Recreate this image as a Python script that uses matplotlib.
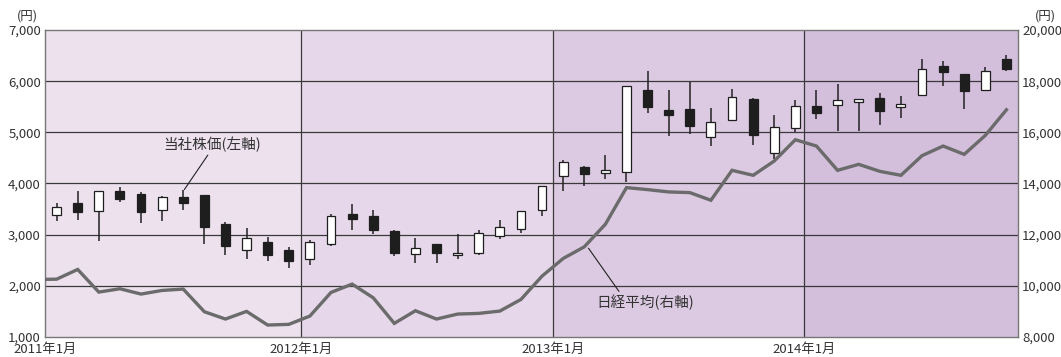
import matplotlib.pyplot as plt
import numpy as np

plt.rcParams['font.family'] = ['Liberation Sans Narrow', 'Noto Sans CJK JP', 'DejaVu Sans']

# 当社株価 月足 2011年1月 - 2014年10月 (円)
opens = [3380, 3627, 3464, 3854, 3802, 3477, 3743, 3770, 3204, 2697, 2866, 2710,
         2515, 2814, 3406, 3373, 3067, 2619, 2808, 2612, 2651, 2983, 3113, 3490,
         4153, 4322, 4212, 4225, 5818, 5441, 5447, 4914, 5246, 5642, 4596, 5090,
         5506, 5525, 5597, 5668, 5493, 5733, 6293, 6143, 5831, 6436]
closes = [3542, 3445, 3854, 3692, 3445, 3737, 3627, 3152, 2775, 2944, 2612, 2482,
          2847, 3367, 3315, 3087, 2645, 2749, 2632, 2651, 3035, 3152, 3464, 3958,
          4426, 4192, 4264, 5909, 5493, 5343, 5116, 5207, 5688, 4940, 5103, 5506,
          5376, 5636, 5642, 5415, 5545, 6247, 6176, 5805, 6189, 6241]
highs = [3627, 3848, 3854, 3932, 3835, 3750, 3867, 3783, 3250, 3139, 2957, 2762,
         2905, 3412, 3607, 3477, 3100, 2938, 2808, 3022, 3087, 3282, 3464, 3958,
         4452, 4342, 4550, 5909, 6195, 5831, 5980, 5473, 5850, 5675, 5330, 5636,
         5818, 5935, 5655, 5766, 5714, 6436, 6403, 6143, 6286, 6520]
lows = [3269, 3282, 2879, 3640, 3230, 3269, 3477, 2808, 2600, 2534, 2482, 2339,
        2404, 2782, 3100, 3022, 2580, 2450, 2450, 2534, 2612, 2918, 3035, 3367,
        3854, 3952, 4082, 4030, 5382, 4927, 4960, 4726, 5220, 4745, 4485, 5005,
        5259, 5025, 5018, 5135, 5278, 5733, 5902, 5460, 5831, 6208]

# 日経平均 2010年12月 - 2014年10月 (円)
nikkei = [10250, 10260, 10640, 9756, 9886, 9678, 9821, 9873, 8988, 8702, 9001, 8468, 8494,
          8819, 9742, 10068, 9534, 8533, 9027, 8702, 8897, 8923, 9014, 9469, 10380,
          11069, 11524, 12408, 13839, 13761, 13670, 13644, 13345, 14515, 14320, 14879, 15711,
          15464, 14515, 14749, 14476, 14320, 15087, 15464, 15139, 15880, 16881]

year_labels = ['2011年1月', '2012年1月', '2013年1月', '2014年1月']
year_colors = ['#ede1ee', '#e6d8ea', '#dccae2', '#d3bedc']

x = np.arange(len(opens))
x_nk = np.arange(len(nikkei)) - 1

fig = plt.figure(figsize=(10.61, 3.57), dpi=100)
ax = fig.add_axes([0.0424, 0.056, 0.9171, 0.860])
ax.set_xlim(-0.55, 45.55)
ax.set_ylim(1000, 7000)

year_edges = [-0.55, 11.6, 23.5, 35.4, 45.55]
for i, c in enumerate(year_colors):
    ax.axvspan(year_edges[i], year_edges[i + 1], color=c, zorder=0, lw=0)
for e in year_edges[1:-1]:
    ax.axvline(e, color='#3a3a3a', lw=0.9, zorder=1)
for v in range(2000, 7000, 1000):
    ax.axhline(v, color='#3a3a3a', lw=0.9, zorder=1)

o = np.array(opens)
c = np.array(closes)
up = c >= o
ax.vlines(x, lows, highs, color='#222222', lw=1.1, zorder=3)
ax.bar(x, np.abs(c - o), bottom=np.minimum(o, c), width=0.42,
       color=np.where(up, 'white', '#1e1e1e'), edgecolor='#1e1e1e', lw=0.9, zorder=4)

ax.set_xticks(year_edges[:-1])
ax.set_xticklabels(year_labels)
ax.set_yticks(range(1000, 8000, 1000))
ax.set_yticklabels([f'{v:,}' for v in range(1000, 8000, 1000)])
ax.tick_params(length=0, labelsize=9.5, colors='#333333', pad=3)
ax.tick_params(axis='x', pad=4.5)
for s in ax.spines.values():
    s.set_color('#777777')
    s.set_linewidth(1)

ax2 = ax.twinx()
ax2.set_ylim(8000, 20000)
ax2.set_yticks(range(8000, 22000, 2000))
ax2.set_yticklabels([f'{v:,}' for v in range(8000, 22000, 2000)])
ax2.tick_params(length=0, labelsize=9.5, colors='#333333', pad=3)
for s in ax2.spines.values():
    s.set_visible(False)
ax2.plot(x_nk, nikkei, color='#6b6b6b', lw=2.4, zorder=5, solid_joinstyle='miter')

fig.text(0.026, 0.955, '(円)', fontsize=9, color='#333333', ha='center', va='center')
fig.text(0.985, 0.955, '(円)', fontsize=9, color='#333333', ha='center', va='center')

jp = ['Noto Sans CJK JP', 'DejaVu Sans']
ax.annotate('当社株価(左軸)', xy=(6.05, 3880), xytext=(7.35, 4760),
            fontsize=10.5, color='#333333', ha='center', va='center', family=jp,
            arrowprops=dict(arrowstyle='-', color='#222222', lw=0.8,
                            shrinkA=0, shrinkB=0, relpos=(0.49, 0.1)))
ax2.annotate('日経平均(右軸)', xy=(25.2, 11470), xytext=(27.9, 9370),
             fontsize=10.5, color='#333333', ha='center', va='center', family=jp,
             arrowprops=dict(arrowstyle='-', color='#222222', lw=0.8,
                             shrinkA=0, shrinkB=0, relpos=(0.26, 0.9)))

fig.savefig('out.png', dpi=100)
